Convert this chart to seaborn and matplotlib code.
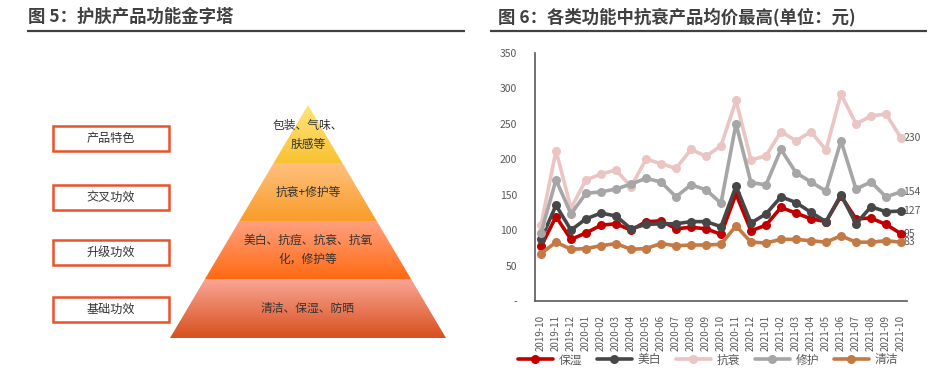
import matplotlib
matplotlib.use("Agg")
import matplotlib.pyplot as plt
import numpy as np
import pandas as pd
import seaborn as sns
from matplotlib.colors import to_rgb
from matplotlib.lines import Line2D
from matplotlib.patches import Polygon, Rectangle

# ---- data -------------------------------------------------------------
months = [
	"2019-10", "2019-11", "2019-12", "2020-01", "2020-02", "2020-03", "2020-04",
	"2020-05", "2020-06", "2020-07", "2020-08", "2020-09", "2020-10", "2020-11",
	"2020-12", "2021-01", "2021-02", "2021-03", "2021-04", "2021-05", "2021-06",
	"2021-07", "2021-08", "2021-09", "2021-10",
]
moisturizing = [77, 119, 87, 96, 107, 109, 100, 112, 113, 102, 104, 102, 94, 151,
				99, 107, 132, 124, 116, 112, 148, 116, 117, 108, 95]
whitening = [87, 135, 100, 116, 124, 120, 102, 108, 109, 109, 112, 112, 105, 162,
			 110, 123, 147, 139, 125, 112, 150, 109, 133, 126, 127]
anti_aging = [107, 212, 131, 171, 179, 185, 161, 200, 194, 187, 214, 204, 219, 283,
			  199, 205, 239, 226, 239, 213, 292, 250, 261, 264, 230]
repair = [96, 171, 123, 152, 154, 158, 165, 173, 168, 147, 164, 157, 138, 250,
		  167, 164, 214, 181, 168, 155, 226, 158, 168, 147, 154]
cleansing = [67, 83, 73, 74, 78, 81, 73, 74, 81, 78, 79, 79, 80, 106,
			 83, 82, 87, 87, 85, 83, 92, 83, 83, 85, 83]

series_names = ["保湿", "美白", "抗衰", "修护", "清洁"]
series_values = [moisturizing, whitening, anti_aging, repair, cleansing]
series_colors = ["#C00000", "#474747", "#EBC4C4", "#A6A6A6", "#C47A45"]

pyramid_levels = ["产品特色", "交叉功效", "升级功效", "基础功效"]
pyramid_texts = ["包装、气味、\n肤感等", "抗衰+修护等", "美白、抗痘、抗衰、抗氧\n化，修护等", "清洁、保湿、防晒"]
band_colors = [
	("#FFE57C", "#F8C232"),
	("#FFC07C", "#F99C2A"),
	("#FFA07E", "#FF6A12"),
	("#F9A595", "#D8501E"),
]

left_title = "图 5：护肤产品功能金字塔"
right_title = "图 6：各类功能中抗衰产品均价最高(单位：元)"

# ---- style ------------------------------------------------------------
sns.set_theme(style="white")
plt.rcParams["font.family"] = ["Noto Sans CJK SC", "DejaVu Sans"]

W, H = 941, 368
fig = plt.figure(figsize=(W / 100, H / 100), dpi=100)

# background layer in pixel coordinates
bg = fig.add_axes([0, 0, 1, 1])
bg.set_xlim(0, W)
bg.set_ylim(H, 0)
bg.axis("off")

title_color = "#404040"
bg.text(28, 17, left_title, fontsize=12.5, fontweight="bold", color=title_color, va="center", ha="left")
bg.plot([27, 465], [31, 31], color=title_color, lw=1.6, solid_capstyle="butt")
bg.text(498, 17, right_title, fontsize=12.5, fontweight="bold", color=title_color, va="center", ha="left")
bg.plot([490, 927], [31, 31], color=title_color, lw=1.6, solid_capstyle="butt")

# ---- pyramid ----------------------------------------------------------
apex_x, apex_y, base_y, half_base = 308, 105, 338, 138
band_edges = [105, 163, 221, 279, 338]


def edges_at(y):
	half = half_base * (y - apex_y) / (base_y - apex_y)
	return apex_x - half, apex_x + half


for i, (c_top, c_bot) in enumerate(band_colors):
	y0, y1 = band_edges[i], band_edges[i + 1]
	l0, r0 = edges_at(y0)
	l1, r1 = edges_at(y1)
	poly = Polygon([(l0, y0), (r0, y0), (r1, y1), (l1, y1)], closed=True,
				   facecolor="none", edgecolor="none")
	bg.add_patch(poly)
	t = np.linspace(0, 1, 64)[:, None]
	grad = (1 - t) * np.array(to_rgb(c_top)) + t * np.array(to_rgb(c_bot))
	img = bg.imshow(grad[:, None, :], extent=[l1, r1, y1, y0], origin="upper",
					aspect="auto", interpolation="bilinear")
	img.set_clip_path(poly)
	yc = (y0 + y1) / 2
	bg.text(apex_x, yc + (0 if i else 1), pyramid_texts[i], fontsize=8.5, color="#333333",
			ha="center", va="center", linespacing=1.6, multialignment="center")

bg.set_xlim(0, W)
bg.set_ylim(H, 0)

box_tops = [126, 185, 240, 297]
for label, top in zip(pyramid_levels, box_tops):
	bg.add_patch(Rectangle((53, top), 116, 25, facecolor="white",
						   edgecolor="#E8532B", lw=1.8))
	bg.text(111, top + 12.5, label, fontsize=8.7, color="#333333", ha="center", va="center")

# ---- line chart -------------------------------------------------------
rows = []
for name, vals in zip(series_names, series_values):
	for i, v in enumerate(vals):
		rows.append({"idx": i, "month": months[i], "series": name, "value": v})
df = pd.DataFrame(rows)

ax = fig.add_axes([535 / W, (H - 301) / H, 372 / W, 248 / H])
sns.lineplot(
	data=df,
	x="idx",
	y="value",
	hue="series",
	hue_order=series_names,
	palette=series_colors,
	marker="o",
	markersize=6.5,
	markeredgewidth=0,
	linewidth=2.6,
	errorbar=None,
	legend=False,
	ax=ax,
)

for name, vals in zip(series_names, series_values):
	ax.annotate(str(vals[-1]), (len(vals) - 1, vals[-1]), xytext=(1.5, 0),
				textcoords="offset points", ha="left", va="center",
				fontsize=7.5, color="#595959", zorder=1)

ax.set_xlim(-0.4, 24.4)
ax.set_ylim(0, 350)
ax.set_xticks(range(len(months)))
ax.set_xticklabels(months, rotation=90)
yticks = list(range(0, 351, 50))
ax.set_yticks(yticks)
ax.set_yticklabels(["-" if v == 0 else str(v) for v in yticks])
ax.tick_params(axis="x", length=0, pad=10, labelsize=7, labelcolor="#595959")
ax.tick_params(axis="y", length=0, pad=13, labelsize=7.5, labelcolor="#595959")
ax.set_xlabel("")
ax.set_ylabel("")
for side in ["top", "right"]:
	ax.spines[side].set_visible(False)
for side in ["left", "bottom"]:
	ax.spines[side].set_color("#595959")
	ax.spines[side].set_linewidth(1.2)
ax.set_facecolor("none")

handles = [
	Line2D([0], [0], color=c, lw=2.6, marker="o", markersize=6.5, markeredgewidth=0)
	for c in series_colors
]
fig.legend(
	handles,
	series_names,
	loc="center",
	bbox_to_anchor=(708 / W, 8 / H),
	ncol=5,
	frameon=False,
	fontsize=8.5,
	labelcolor="#595959",
	handlelength=3,
	handletextpad=0.5,
	columnspacing=1.2,
	borderaxespad=0,
	borderpad=0,
)

fig.savefig("out.png", dpi=100)
